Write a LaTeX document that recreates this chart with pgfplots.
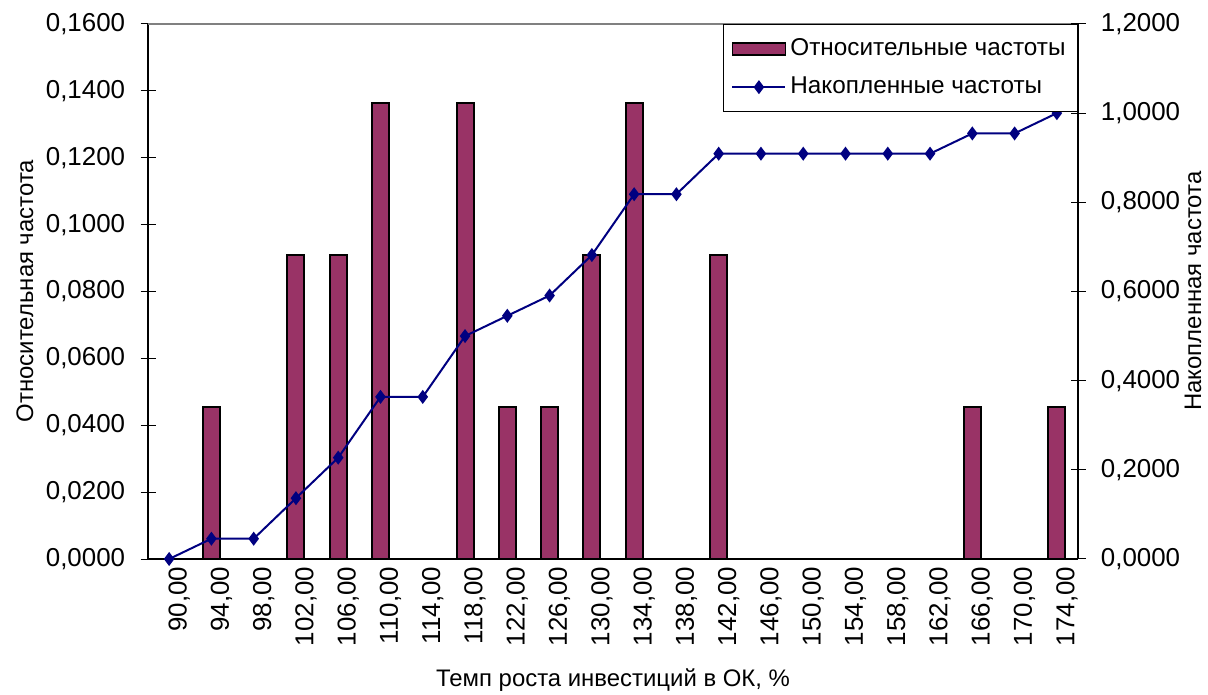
\documentclass[border=0pt]{standalone}
\usepackage{fontspec}
\setmainfont{Liberation Sans}
\usepackage{pgfplots}
\pgfplotsset{compat=1.18}
\definecolor{barc}{HTML}{993366}
\definecolor{linec}{HTML}{000080}
\pgfplotsset{
  barlegend/.style={legend image code/.code={\draw[fill=barc, draw=black, line width=0.9bp] (0bp,-3bp) rectangle (26.5bp,3bp);}},
  linelegend/.style={legend image code/.code={\draw[mark repeat=2, mark phase=2, ##1] plot coordinates {(0bp,0bp) (13.25bp,0bp) (26.5bp,0bp)};}},
  common/.style={
    at={(74bp,68bp)}, anchor=south west, width=465bp, height=267.5bp, scale only axis,
    xmin=-0.5, xmax=21.5,
    tick align=center,
    major tick length=7.5bp,
    tick style={black, line width=0.5bp},
    /pgf/number format/assume math mode=true,
    /pgf/number format/.cd, fixed, fixed zerofill, precision=4, use comma,
  },
}
\begin{document}
\fontsize{12}{14}\selectfont
\begin{tikzpicture}
\useasboundingbox (0,0) rectangle (604bp,347.5bp);
\begin{axis}[common,
  axis x line*=bottom, axis y line*=left,
  axis line style={black, line width=0.6bp, -},
  ymin=0, ymax=0.16,
  ytick={0,0.02,0.04,0.06,0.08,0.10,0.12,0.14,0.16},
  yticklabel style={anchor=east, inner sep=0pt, xshift=-7.5bp, font=\fontsize{13}{15}\selectfont},
  xtick={0,...,21},
  xticklabels={{90,00},{94,00},{98,00},{102,00},{106,00},{110,00},{114,00},{118,00},{122,00},{126,00},{130,00},{134,00},{138,00},{142,00},{146,00},{150,00},{154,00},{158,00},{162,00},{166,00},{170,00},{174,00}},
  x tick style={draw=none},
  minor xtick={-0.5,0.5,...,21.5},
  minor x tick style={gray, line width=0.5bp},
  minor tick length=7.5bp,
  xticklabel style={rotate=90, anchor=east, inner sep=0pt, yshift=-5bp, font=\fontsize{13}{15}\selectfont},
  clip=false,
]
\addplot[ybar, bar width=8.5bp, bar shift=0pt, fill=barc, draw=black, line width=1bp] coordinates {
 (1,0.0455) (3,0.0909) (4,0.0909) (5,0.1364) (7,0.1364) (8,0.0455) (9,0.0455)
 (10,0.0909) (11,0.1364) (13,0.0909) (19,0.0455) (21,0.0455)
};
\draw[gray, line width=0.6bp] (rel axis cs:0,1) -- (rel axis cs:1,1);
\end{axis}
\begin{axis}[common,
  axis x line=none, axis y line*=right,
  axis line style={black, line width=0.6bp, -},
  ymin=0, ymax=1.2,
  ytick={0,0.2,0.4,0.6,0.8,1.0,1.2},
  yticklabel style={anchor=west, inner sep=0pt, xshift=7.5bp, font=\fontsize{13}{15}\selectfont},
  legend style={at={(1,1)}, anchor=north east, draw=black, line width=0.5bp,
    inner xsep=4bp, inner ysep=5bp, row sep=5bp,
    font=\fontsize{12.2}{14}\selectfont, cells={anchor=west}},
  legend cell align=left,
]
\addlegendimage{barlegend}
\addlegendentry{Относительные частоты}
\addplot[linec, line width=1bp, mark=diamond*, mark size=2.7bp, mark options={solid, fill=linec}, linelegend]
 coordinates {
 (0,0) (1,0.0455) (2,0.0455) (3,0.1364) (4,0.2273) (5,0.3636) (6,0.3636) (7,0.5000)
 (8,0.5455) (9,0.5909) (10,0.6818) (11,0.8182) (12,0.8182) (13,0.9091) (14,0.9091)
 (15,0.9091) (16,0.9091) (17,0.9091) (18,0.9091) (19,0.9545) (20,0.9545) (21,1.0000)
};
\addlegendentry{Накопленные частоты}
\end{axis}
\node[rotate=90] at (12.5bp,202bp) {Относительная частота};
\node[rotate=90] at (596.5bp,202bp) {Накопленная частота};
\node at (306.5bp,7.5bp) {Темп роста инвестиций в ОК, \%};
\end{tikzpicture}
\end{document}
